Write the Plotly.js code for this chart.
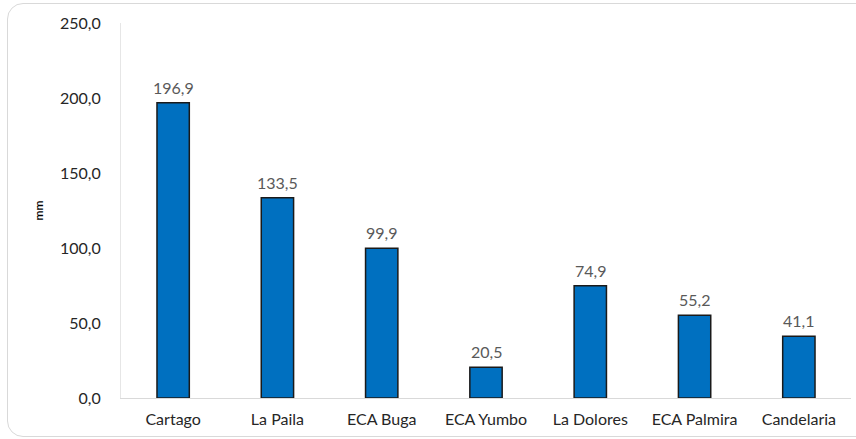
<!DOCTYPE html>
<html>
<head>
<meta charset="utf-8">
<script src="https://cdn.plot.ly/plotly-3.0.1.min.js"></script>
<style>
  html, body { margin: 0; padding: 0; background: #ffffff; overflow: hidden; }
  #frame { position: absolute; left: 7px; top: 3px; width: 880px; height: 434px;
           border: 1.5px solid #d9d9d9; border-radius: 16px; box-sizing: border-box; }
  #chart { position: absolute; left: 0; top: 0; width: 856px; height: 439px; }
</style>
</head>
<body>
<div id="frame"></div>
<div id="chart"></div>
<script>
const categories = ["Cartago", "La Paila", "ECA Buga", "ECA Yumbo", "La Dolores", "ECA Palmira", "Candelaria"];
const values = [196.9, 133.5, 99.9, 20.5, 74.9, 55.2, 41.1];
const yTickValues = [0, 50, 100, 150, 200, 250];
const yTickLabels = ["0,0", "50,0", "100,0", "150,0", "200,0", "250,0"];
const yTitle = "mm";

const labels = values.map(v => v.toFixed(1).replace(".", ","));

const FONT = "Lato, 'Open Sans', sans-serif";

const trace = {
  type: "bar",
  x: categories,
  y: values,
  marker: { color: "#0070C0", line: { color: "#1a1a1a", width: 1.5 } },
  width: 0.31,
  hoverinfo: "x+y"
};

const annotations = categories.map((c, i) => ({
  x: c,
  y: values[i],
  xref: "x",
  yref: "y",
  text: labels[i],
  showarrow: false,
  yanchor: "bottom",
  yshift: 4,
  font: { family: FONT, size: 16, color: "#595959" }
}));

const layout = {
  width: 856,
  height: 439,
  margin: { l: 121, r: 5, t: 23, b: 41 },
  paper_bgcolor: "rgba(0,0,0,0)",
  plot_bgcolor: "rgba(0,0,0,0)",
  showlegend: false,
  font: { family: FONT, color: "#404040" },
  annotations: annotations,
  xaxis: {
    type: "category",
    showgrid: false,
    showline: true,
    linecolor: "#d9d9d9",
    linewidth: 1,
    ticks: "outside",
    ticklen: 7,
    tickcolor: "rgba(0,0,0,0)",
    tickfont: { family: FONT, size: 16, color: "#262626" },
    zeroline: false
  },
  yaxis: {
    range: [0, 250],
    tickvals: yTickValues,
    ticktext: yTickLabels,
    showgrid: false,
    showline: true,
    linecolor: "#e6e6e6",
    linewidth: 1,
    zeroline: false,
    ticks: "outside",
    ticklen: 16,
    tickcolor: "rgba(0,0,0,0)",
    tickfont: { family: FONT, size: 16, color: "#262626" },
    title: { text: yTitle, font: { family: FONT, size: 12, color: "#000000", weight: 600 }, standoff: 13 }
  }
};

Plotly.newPlot("chart", [trace], layout, { displayModeBar: false, staticPlot: true });
</script>
</body>
</html>
